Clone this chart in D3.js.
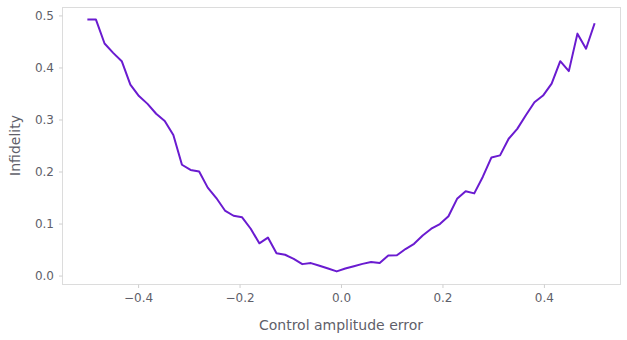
<!DOCTYPE html>
<html>
<head>
<meta charset="utf-8">
<script src="https://cdn.jsdelivr.net/npm/d3@7"></script>
<style>
  html, body { margin: 0; padding: 0; background: #fff; }
  svg { display: block; font-family: "DejaVu Sans", sans-serif; }
</style>
</head>
<body>
<svg id="chart" width="627" height="340"></svg>
<script>
// Amplitude error scan: 60 samples from -0.5 to 0.5
const errorStart = -0.5;
const errorEnd = 0.5;
const infidelity = [
  0.492, 0.492, 0.446, 0.428, 0.412, 0.367, 0.345, 0.330, 0.311, 0.297,
  0.270, 0.213, 0.203, 0.200, 0.169, 0.149, 0.125, 0.115, 0.112, 0.090,
  0.062, 0.073, 0.043, 0.040, 0.032, 0.022, 0.024, 0.019, 0.0135, 0.008,
  0.0135, 0.018, 0.0225, 0.026, 0.024, 0.0385, 0.039, 0.051, 0.061, 0.077,
  0.090, 0.099, 0.114, 0.1475, 0.162, 0.158, 0.190, 0.227, 0.231, 0.263,
  0.282, 0.308, 0.333, 0.346, 0.369, 0.412, 0.393, 0.465, 0.436, 0.485
];
const amplitudeError = infidelity.map((_, i) =>
  errorStart + (errorEnd - errorStart) * i / (infidelity.length - 1));

const xTicks = [-0.4, -0.2, 0.0, 0.2, 0.4];
const yTicks = [0.0, 0.1, 0.2, 0.3, 0.4, 0.5];
const xLabel = "Control amplitude error";
const yLabel = "Infidelity";

const svg = d3.select("#chart");
const plot = { left: 62, right: 620, top: 7, bottom: 284 };

// 5% padding around the data range on both axes
const xExt = d3.extent(amplitudeError);
const yExt = d3.extent(infidelity);
const xPad = (xExt[1] - xExt[0]) * 0.05;
const yPad = (yExt[1] - yExt[0]) * 0.05;

const x = d3.scaleLinear()
  .domain([xExt[0] - xPad, xExt[1] + xPad])
  .range([plot.left, plot.right]);
const y = d3.scaleLinear()
  .domain([yExt[0] - yPad, yExt[1] + yPad])
  .range([plot.bottom, plot.top]);

const textColor = "#5f5f6a";
const frameColor = "#dcdcdc";

// frame
svg.append("rect")
  .attr("x", plot.left + 0.5).attr("y", plot.top + 0.5)
  .attr("width", plot.right - plot.left).attr("height", plot.bottom - plot.top)
  .attr("fill", "none").attr("stroke", frameColor).attr("stroke-width", 1);

const fmt = d3.format(".1f");

const xAxis = svg.append("g")
  .attr("transform", `translate(0,${plot.bottom + 0.5})`)
  .call(d3.axisBottom(x).tickValues(xTicks).tickFormat(fmt).tickSize(3.5).tickPadding(5));
const yAxis = svg.append("g")
  .attr("transform", `translate(${plot.left + 0.5},0)`)
  .call(d3.axisLeft(y).tickValues(yTicks).tickFormat(fmt).tickSize(3.5).tickPadding(5));

[xAxis, yAxis].forEach(g => {
  g.select(".domain").remove();
  g.selectAll(".tick line").attr("stroke", "#cfcfcf");
  g.selectAll(".tick text")
    .attr("fill", textColor)
    .style("font-size", "12px")
    .style("font-family", "'DejaVu Sans', sans-serif");
});

// data line
const line = d3.line()
  .x((d, i) => x(amplitudeError[i]))
  .y(d => y(d));

svg.append("path")
  .datum(infidelity)
  .attr("d", line)
  .attr("fill", "none")
  .attr("stroke", "#6a1bd0")
  .attr("stroke-width", 2)
  .attr("stroke-linejoin", "round");

// axis titles
svg.append("text")
  .attr("x", (plot.left + plot.right) / 2)
  .attr("y", 330)
  .attr("text-anchor", "middle")
  .attr("fill", textColor)
  .style("font-size", "14px")
  .text(xLabel);

svg.append("text")
  .attr("transform", `translate(20,${(plot.top + plot.bottom) / 2}) rotate(-90)`)
  .attr("text-anchor", "middle")
  .attr("fill", textColor)
  .style("font-size", "14px")
  .text(yLabel);
</script>
</body>
</html>
